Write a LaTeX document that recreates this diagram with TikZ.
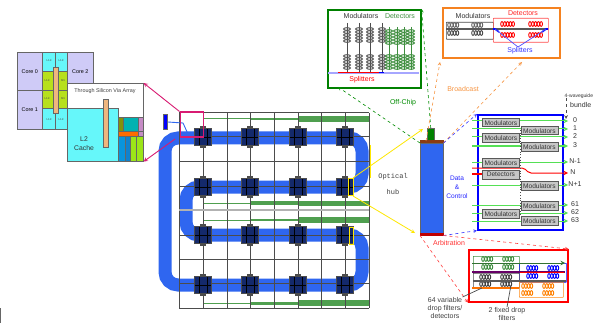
\documentclass[tikz,border=0pt]{standalone}
\usepackage{fontspec}
\setmainfont{Liberation Sans}
\newfontfamily\hubfont{Liberation Mono}
\definecolor{wgblue}{HTML}{2F66F0}
\definecolor{navyblock}{HTML}{14296B}
\definecolor{linkgreen}{HTML}{4F9F4F}
\definecolor{bundlegreen}{HTML}{55E055}
\definecolor{coreviolet}{HTML}{CFCBF7}
\definecolor{cachecyan}{HTML}{66F7FA}
\definecolor{limecell}{HTML}{B7E01C}
\definecolor{viastrip}{HTML}{EFB67E}
\definecolor{selectpink}{HTML}{D81B72}
\definecolor{panelorange}{HTML}{F58220}
\definecolor{ringgreen}{HTML}{3F8F3F}
\definecolor{hubcap}{HTML}{8A3B12}
\tikzset{
  router/.style={draw=black!70, fill=navyblock, line width=.7pt, minimum width=17pt, minimum height=17pt, inner sep=0pt},
  cell/.style={draw=black!60, line width=.6pt, minimum width=#1, inner sep=0pt, anchor=north west},
  panel/.style={line width=1.6pt, inner sep=0pt, anchor=north west},
  frame/.style={line width=.7pt, inner sep=0pt, anchor=north west, rounded corners=.5pt},
  modbox/.style={draw=black!65, fill=black!22, line width=.8pt, minimum width=37pt, minimum height=8.5pt, inner sep=0pt, font=\fontsize{6.6}{7}\selectfont, text=black!80},
  lbl/.style={inner sep=0pt, font=\fontsize{7}{8.2}\selectfont, align=center},
  tinylbl/.style={inner sep=0pt, font=\fontsize{2.8}{3}\selectfont, text=black!70},
  link/.style={dashed, line width=.6pt, -stealth},
  zoomarrow/.style={selectpink, line width=.9pt, -stealth},
  hubarrow/.style={yellow!90!orange, line width=.8pt, -stealth},
  bundle/.style={bundlegreen, line width=1pt, -stealth}
}
\newcommand{\ringcol}[4]{\foreach \k in {0,...,#3} \draw[#4, line width=1pt] (#1,#2+\k*3) ellipse (3.4 and 1.3);}
\newcommand{\ringrow}[4]{\foreach \k in {0,...,#3} \draw[#4, line width=.9pt] (#1+\k*2.8,#2) ellipse (1.3 and 2.4);}
\begin{document}
\begin{tikzpicture}[x=1pt, y=-1pt]
  \useasboundingbox (0,0) rectangle (593,323);
  \fill[white] (0,0) rectangle (593,323);
  \coordinate (edgetop) at (.5,308);
  \coordinate (edgebot) at (.5,323);
  \draw[black!60, line width=1pt] (edgetop) -- (edgebot);

  \foreach \y/\a/\b/\c in {119/1/2.5/6, 203/1/4/5, 220/1/2.5/6, 303/1/3/6} {
    \draw[linkgreen, line width=\a pt] (203,\y) -- (250,\y);
    \draw[linkgreen, line width=\b pt] (250,\y) -- (298,\y);
    \draw[linkgreen, line width=\c pt] (298,\y) -- (369,\y);
  }
  \draw[wgblue, line width=13pt, rounded corners=13pt] (165,138) -- (362,138) -- (362,187) -- (186,187) -- (186,235)
       -- (362,235) -- (362,285) -- (165,285) -- cycle;
  \foreach \x in {179,203,227,250,274,298,321,345,369}
    \draw[black!70, line width=1pt] (\x,113) -- (\x,308);
  \foreach \y in {113,137,161,186,235,259,283,308}
    \draw[black!70, line width=1pt] (179,\y) -- (369,\y);
  \coordinate (bandleft) at (179,210);
  \coordinate (bandright) at (369,210);
  \draw[black!30, line width=2.2pt] (bandleft) -- (bandright);
  \foreach \x in {203,250,298,345}
    \foreach \y in {137,187,235,285} {
      \fill[black!70] (\x-3,\y-11) rectangle (\x+3,\y+11);
      \node[router] (r\x\y) at (\x,\y) {};
      \draw[black, line width=.3pt] (\x-4,\y-8) -- (\x-4,\y+8) (\x+4,\y-8) -- (\x+4,\y+8) (\x-8,\y) -- (\x+8,\y);
    }

  \draw[yellow!90!orange, line width=.8pt] (348,178) rectangle (353,195);
  \draw[yellow!90!orange, line width=.8pt] (349,227) rectangle (353,244);
  \draw[yellow!90!orange, line width=.8pt] (370,145) -- (370,178);

  \node[draw=black!60, fill=blue, line width=.5pt, minimum width=4pt, minimum height=15pt, inner sep=0pt] (source) at (165.5,122) {};
  \coordinate (sourcebend) at (183,123);
  \coordinate (sourcein) at (188,134);
  \draw[wgblue, line width=.9pt] (source.east) -- (sourcebend) -- (sourcein);
  \node[draw=selectpink, line width=1.6pt, minimum width=23pt, minimum height=25pt, inner sep=0pt, anchor=north west] (select) at (179.5,111.5) {};

  \node[lbl, font=\hubfont\fontsize{7}{8}\selectfont, text=black!75] (opt) at (393,177) {Optical};
  \node[lbl, font=\hubfont\fontsize{7}{8}\selectfont, text=black!75] (hublabel) at (393,192) {hub};

  \node[cell=25pt, fill=coreviolet, minimum height=38pt] (core0) at (17,52) {\fontsize{5.4}{6}\selectfont Core 0};
  \node[cell=25pt, fill=coreviolet, minimum height=39pt] (core1) at (17,90) {\fontsize{5.4}{6}\selectfont Core 1};
  \node[cell=26pt, fill=coreviolet, minimum height=38pt] (core2) at (67,52) {\fontsize{5.4}{6}\selectfont Core 2};
  \node[cell=13pt, fill=cachecyan, minimum height=19pt] (la) at (42,52) {};
  \node[cell=12pt, fill=cachecyan, minimum height=19pt] (lb) at (55,52) {};
  \node[cell=13pt, fill=limecell, minimum height=19pt] (lc) at (42,71) {};
  \node[cell=12pt, fill=limecell, minimum height=19pt] (ld) at (55,71) {};
  \node[cell=13pt, fill=limecell, minimum height=18pt] (le) at (42,90) {};
  \node[cell=12pt, fill=limecell, minimum height=18pt] (lf) at (55,90) {};
  \node[cell=13pt, fill=cachecyan, minimum height=21pt] (lg) at (42,108) {};
  \node[cell=12pt, fill=cachecyan, minimum height=21pt] (lh) at (55,108) {};
  \node[tinylbl] (ta) at (49,61) {L1d};
  \node[tinylbl] (tb) at (61,61) {L1d};
  \node[tinylbl] (tc) at (47,81) {L1d};
  \node[tinylbl] (td) at (63,81) {M1};
  \node[tinylbl] (te) at (47,99) {L1d};
  \node[tinylbl] (tf) at (63,99) {M1};
  \node[tinylbl] (tg) at (49,119) {L1d};
  \node[tinylbl] (th) at (61,119) {L1d};
  \node[cell=4.5pt, fill=viastrip, minimum height=46pt] (via) at (53,67) {};

  \node[cell=76pt, fill=white, minimum height=78pt, draw=black!60] (chip) at (67,83) {};
  \node[lbl, font=\fontsize{5.4}{6}\selectfont, text=black!75] (tsv) at (105,91) {Through Silicon Via Array};
  \node[cell=51pt, fill=cachecyan, minimum height=53pt] (cache) at (67,108) {};
  \node[lbl, font=\fontsize{6.8}{9}\selectfont, text=black!80] (l2) at (84,144) {L2\\Cache};
  \node[cell=5pt, fill=viastrip, minimum height=48pt] (via2) at (102.5,99) {};
  \node[cell=5pt, fill=olive!80!green, minimum height=14pt] (ma) at (118,117) {};
  \node[cell=15pt, fill=teal!60!cyan, minimum height=14pt] (mb) at (123,117) {};
  \node[cell=5pt, fill=violet!45, minimum height=14pt] (mc) at (138,117) {};
  \node[cell=20pt, fill=orange!85!red, minimum height=5pt] (md) at (118,131) {};
  \node[cell=5pt, fill=violet!45, minimum height=5pt] (me) at (138,131) {};
  \node[cell=7pt, fill=cyan!80!blue, minimum height=25pt] (na) at (118,136) {};
  \node[cell=5pt, fill=cyan!65!blue, minimum height=25pt] (nb) at (125,136) {};
  \node[cell=6pt, fill=limecell!85!green, minimum height=25pt] (nc) at (130,136) {};
  \node[cell=7pt, fill=limecell!85!green, minimum height=25pt] (nd) at (136,136) {};

  \draw[zoomarrow] (select.north west) -- (chip.north east);
  \coordinate (selectlow) at (175,139);
  \draw[zoomarrow] (selectlow) -- (chip.south east);

  \node[draw=green!50!black, panel, minimum width=93pt, minimum height=78pt] (offchip) at (327,9) {};
  \foreach \x in {347,359,370,382} {
    \draw[black!70, line width=.6pt] (\x,23) -- (\x,73);
    \ringcol{\x}{29}{4}{black!65}
    \ringcol{\x}{56}{4}{black!65}
  }
  \foreach \x in {389,397,404,411} {
    \draw[ringgreen, line width=.6pt] (\x,27) -- (\x,70);
    \ringcol{\x}{31}{4}{ringgreen}
    \ringcol{\x}{56}{4}{ringgreen}
  }
  \draw[blue!35, line width=1.4pt] (328,73) -- (419,73);
  \draw[red, line width=1.2pt] (338,72.5) -- (380,72.5);
  \draw[blue, line width=1.2pt] (379,72.5) -- (384,72.5);
  \node[lbl, text=black!80] (modgreen) at (361,16) {Modulators};
  \node[lbl, text=ringgreen] (detgreen) at (400,16) {Detectors};
  \node[lbl, text=red] (splitred) at (362,80) {Splitters};

  \node[draw=panelorange, panel, minimum width=117pt, minimum height=50pt] (bcast) at (442,7) {};
  \node[draw=black!70, frame, minimum width=47pt, minimum height=17pt] (modbcast) at (446,22) {};
  \node[draw=red!70, frame, minimum width=55pt, minimum height=24pt] (detbcast) at (493,18) {};
  \foreach \x in {449,473} {
    \ringrow{\x}{25}{3}{black!60}
    \ringrow{\x}{33}{3}{black!70}
  }
  \foreach \x in {502,530} {
    \ringrow{\x}{24}{4}{red}
    \ringrow{\x}{35}{4}{red}
  }
  \draw[black!65, line width=1.2pt] (446,29) -- (548,29);
  \coordinate (spla) at (495,29);
  \coordinate (splb) at (546,29);
  \coordinate (splc) at (518,47);
  \draw[blue, line width=1.6pt] (493,29) -- (spla) -- (499,32);
  \draw[blue, line width=1.6pt] (542,32) -- (splb) -- (548,29);
  \draw[blue!70, line width=.7pt] (spla) -- (splc) -- (splb);
  \node[lbl, text=black!80] (modorange) at (473,16) {Modulators};
  \node[lbl, text=red!85] (detorange) at (523,13) {Detectors};
  \node[lbl, text=blue!80] (splitblue) at (520,51) {Splitters};

  \node[draw=blue, panel, minimum width=85pt, minimum height=115pt] (data) at (477,114) {};
  \foreach \y/\lab/\nm in {121/0/a, 129/1/b, 137/2/c, 146/3/d, 162/N-1/e, 185/N+1/g, 205/61/h, 213/62/i, 221/63/j} {
    \coordinate (in\nm) at (472,\y);
    \coordinate (out\nm) at (568,\y);
    \draw[bundle] (in\nm) -- (out\nm);
    \node[lbl, text=black!80] (lab\nm) at (575,\y-1) {\lab};
  }
  \coordinate (inf) at (472,168);
  \coordinate (bendf) at (524,168);
  \coordinate (dropf) at (529,173);
  \coordinate (outf) at (568,173);
  \coordinate (stubf) at (482,174);
  \coordinate (stubin) at (472,174);
  \draw[red, line width=1pt, rounded corners=2pt, -stealth] (inf) -- (bendf) -- (dropf) -- (outf);
  \draw[red, line width=1.2pt] (stubin) -- (stubf);
  \node[lbl, text=black!80] (labf) at (573,172.5) {N};
  \draw[black!70, dotted, line width=.7pt] (520,130) -- (520,215);
  \node[modbox, anchor=north west] (m0)  at (482,118)   {Modulators};
  \node[modbox, anchor=north west] (m1)  at (520.5,126) {Modulators};
  \node[modbox, anchor=north west] (m2)  at (482,133.5) {Modulators};
  \node[modbox, anchor=north west] (m3)  at (520.5,142) {Modulators};
  \node[modbox, anchor=north west] (m4)  at (482,158)   {Modulators};
  \node[modbox, anchor=north west] (dd)  at (482,170)   {Detectors};
  \node[modbox, anchor=north west] (m5)  at (520.5,181) {Modulators};
  \node[modbox, anchor=north west] (m6)  at (520.5,201) {Modulators};
  \node[modbox, anchor=north west] (m7)  at (482,209)   {Modulators};
  \node[modbox, anchor=north west] (m8)  at (520.5,216) {Modulators};
  \node[lbl, text=black!80, anchor=west, font=\fontsize{5}{6}\selectfont] (wavelabel) at (564.5,96) {4-waveguide};
  \node[lbl, text=black!80, anchor=west] (bundlelabel) at (570,105) {bundle};
  \coordinate (bundletop) at (566,98);
  \coordinate (bundletip) at (566,119);
  \draw[black!70, dashed, line width=.7pt, -stealth] (bundletop) -- (bundletip);
  \node[lbl, text=blue!85, font=\fontsize{6.6}{9}\selectfont] (datalabel) at (457,187) {Data\\\&\\Control};

  \node[fill=wgblue, draw=black!60, line width=.5pt, minimum width=23pt, minimum height=92pt, inner sep=0pt, anchor=north west] (hub) at (420,143) {};
  \node[fill=green!50!black, draw=black!60, line width=.5pt, minimum width=7pt, minimum height=13pt, inner sep=0pt, anchor=north west] (hubstub) at (427,128) {};
  \fill[hubcap] (hub.north west) ++(0,-2.5) rectangle (hub.north east);
  \fill[red!75!black] (hub.south west) ++(0,-3) rectangle (hub.south east);

  \coordinate (yellowa) at (353,178);
  \coordinate (yellowb) at (353,196);
  \coordinate (yellowc) at (423,129);
  \coordinate (yellowd) at (415,233);
  \draw[hubarrow] (yellowa) -- (yellowc);
  \draw[hubarrow] (yellowb) -- (yellowd);
  \coordinate (greenin) at (338,87);
  \draw[link, green!55!black] (hubstub.north) -- (offchip.north east);
  \draw[link, green!55!black] (hub.north west) -- (greenin);
  \coordinate (orangea) at (440,62);
  \coordinate (orangeb) at (522,62);
  \draw[link, panelorange!85] (hub.north west) ++(6,-2) -- (orangea);
  \draw[link, panelorange!85] (hub.north east) -- (orangeb);
  \draw[link, blue!80] (hub.north east) -- (data.north west);
  \draw[link, blue!80] (hub.south east) -- (data.south west);
  \node[lbl, text=panelorange!85] (broadcast) at (463,89) {Broadcast};
  \node[lbl, text=green!55!black] (chiplabel) at (403,103) {Off-Chip};
  \node[lbl, text=red!80] (arblabel) at (449,243) {Arbitration};

  \node[draw=red, panel, minimum width=99pt, minimum height=52pt] (arb) at (468,249) {};
  \draw[link, red!75] (hub.south west) -- (arb.south west);
  \draw[link, red!75] (hub.south east) -- (arb.north east);
  \node[draw=ringgreen, frame, minimum width=46pt, minimum height=16pt] (arbgreen) at (473,256) {};
  \node[draw=blue, frame, minimum width=47pt, minimum height=19pt] (arbblue) at (519,263) {};
  \node[draw=black!70, frame, minimum width=46pt, minimum height=15pt] (arbblack) at (473,273) {};
  \node[draw=orange!90, frame, minimum width=44pt, minimum height=15pt] (arborange) at (519,282) {};
  \foreach \x in {483,504} {
    \ringrow{\x}{259}{3}{ringgreen}
    \ringrow{\x}{267}{3}{ringgreen}
    \ringrow{\x-2}{277}{3}{black!75}
    \ringrow{\x-2}{284}{3}{black!75}
  }
  \foreach \x in {528,549} {
    \ringrow{\x}{268}{3}{blue}
    \ringrow{\x}{276}{3}{blue}
    \ringrow{\x-5}{286}{3}{orange}
    \ringrow{\x-5}{293}{3}{orange}
  }
  \draw[ringgreen!80!black, line width=1pt, -stealth] (472,263) -- (565,263);
  \draw[violet!80!black, line width=1.4pt] (472,272) -- (565,272);
  \draw[red, line width=.8pt] (520,272) -- (564,272);
  \draw[black!65, line width=1.2pt] (473,281) -- (566,281);
  \draw[orange!90!red, line width=1.2pt] (472,288) -- (519,288);
  \node[lbl, text=black!75] (varlabel) at (445,308) {64 variable\\drop filters/\\detectors};
  \node[lbl, text=black!75] (fixlabel) at (507,314) {2 fixed drop\\filters};
  \coordinate (varin) at (482,288);
  \coordinate (fixin) at (511,285);
  \draw[black!70, line width=.7pt] (varlabel.north east) -- (varin);
  \draw[black!70, line width=.7pt] (fixlabel.north) -- (fixin);
\end{tikzpicture}
\end{document}
